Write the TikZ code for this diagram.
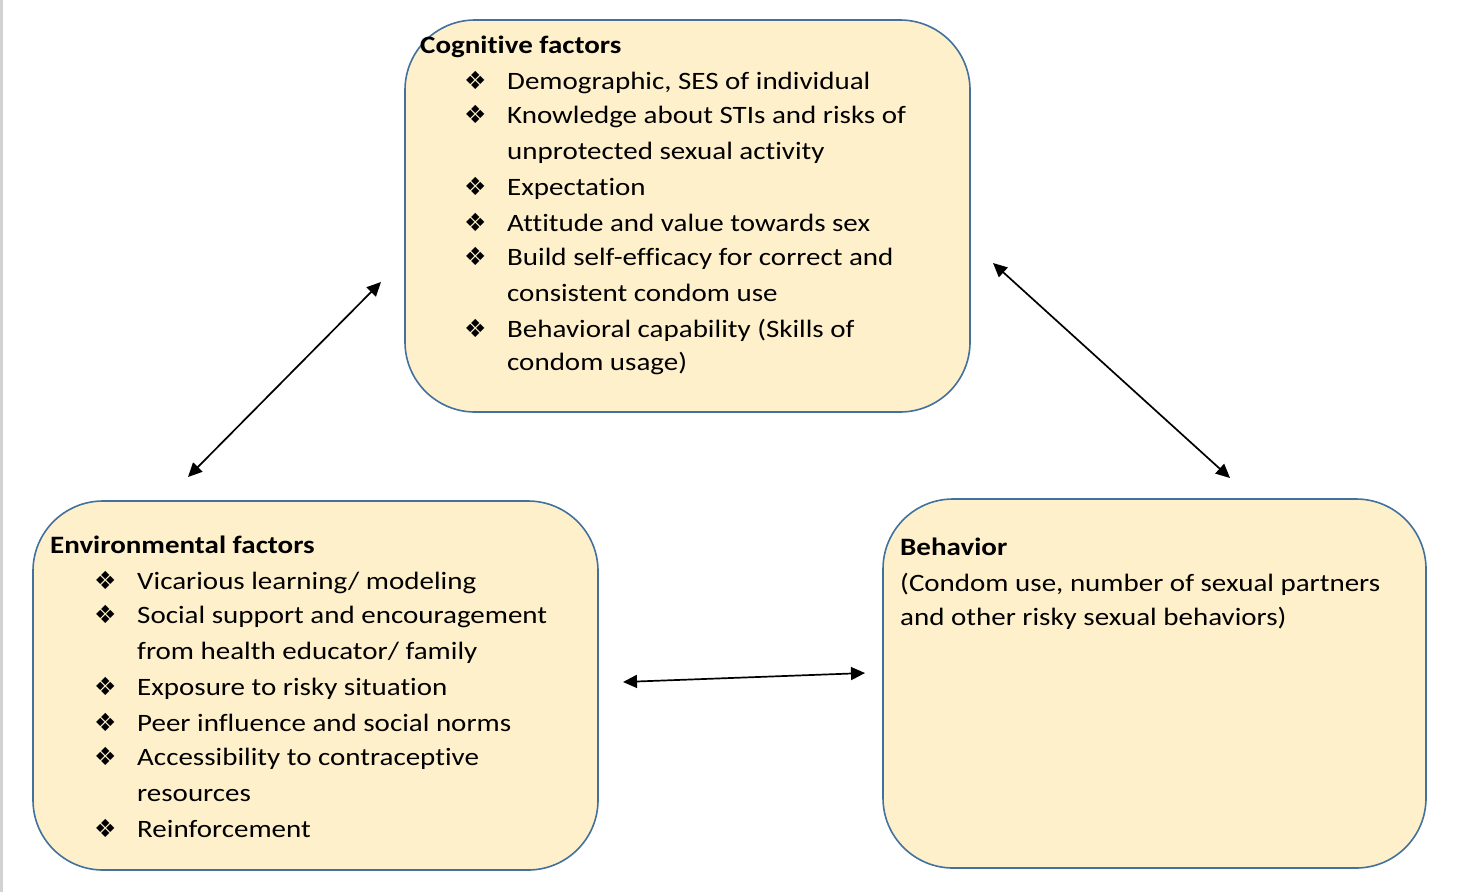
\documentclass[tikz,border=0pt]{standalone}
\usepackage{fontspec}
\setmainfont{Carlito}[FakeStretch=1.16,Ligatures={NoCommon}]
\newfontfamily\symfont{DejaVu Sans}
\usetikzlibrary{arrows.meta}
\definecolor{boxfill}{HTML}{FFF0CC}
\definecolor{boxline}{HTML}{41719C}
\begin{document}
\begin{tikzpicture}[x=1pt,y=-1pt,
  factorbox/.style={draw=boxline,line width=1.6pt,fill=boxfill,rounded corners=70pt},
  txt/.style={anchor=base west,inner sep=0pt,font=\fontsize{25}{30}\selectfont},
  hd/.style={txt,font=\fontsize{25}{30}\selectfont\bfseries},
  bul/.style={anchor=base west,inner sep=0pt,font=\fontsize{25}{30}\symfont},
  link/.style={{Triangle[length=14pt,width=13pt]}-{Triangle[length=14pt,width=13pt]},line width=1.7pt,black}]
\useasboundingbox (0,0) rectangle (1458,892);
\fill[gray!35] (0,0) rectangle (2.5,892);
% boxes
\draw[factorbox] (405,20) rectangle (970,412);
\draw[factorbox] (33,501) rectangle (598,870);
\draw[factorbox] (883,499) rectangle (1426,868);
% cognitive
\node[hd] (ch) at (420,53) {Cognitive factors};
\node[bul] (cb1) at (464,89) {❖};
\node[txt] (c1) at (507,89) {Demographic, SES of individual};
\node[bul] (cb2) at (464,123) {❖};
\node[txt] (c2) at (507,123) {Knowledge about STIs and risks of};
\node[txt] (c2b) at (507,159) {unprotected sexual activity};
\node[bul] (cb3) at (464,195) {❖};
\node[txt] (c3) at (507,195) {Expectation};
\node[bul] (cb4) at (464,231) {❖};
\node[txt] (c4) at (507,231) {Attitude and value towards sex};
\node[bul] (cb5) at (464,265) {❖};
\node[txt] (c5) at (507,265) {Build self-efficacy for correct and};
\node[txt] (c5b) at (507,301) {consistent condom use};
\node[bul] (cb6) at (464,337) {❖};
\node[txt] (c6) at (507,337) {Behavioral capability (Skills of};
\node[txt] (c6b) at (507,370) {condom usage)};
% environmental
\node[hd] (eh) at (50,553) {Environmental factors};
\node[bul] (eb1) at (94,589) {❖};
\node[txt] (e1) at (137,589) {Vicarious learning/ modeling};
\node[bul] (eb2) at (94,623) {❖};
\node[txt] (e2) at (137,623) {Social support and encouragement};
\node[txt] (e2b) at (137,659) {from health educator/ family};
\node[bul] (eb3) at (94,695) {❖};
\node[txt] (e3) at (137,695) {Exposure to risky situation};
\node[bul] (eb4) at (94,731) {❖};
\node[txt] (e4) at (137,731) {Peer influence and social norms};
\node[bul] (eb5) at (94,765) {❖};
\node[txt] (e5) at (137,765) {Accessibility to contraceptive};
\node[txt] (e5b) at (137,801) {resources};
\node[bul] (eb6) at (94,837) {❖};
\node[txt] (e6) at (137,837) {Reinforcement};
% behavior
\node[hd] (bh) at (900,555) {Behavior};
\node[txt] (b1) at (900,591) {(Condom use, number of sexual partners};
\node[txt] (b2) at (900,625) {and other risky sexual behaviors)};
% arrows
\coordinate (a1) at (381,282);
\coordinate (a2) at (188,477);
\coordinate (a3) at (993,263);
\coordinate (a4) at (1230,478);
\coordinate (a5) at (623,682);
\coordinate (a6) at (865,673);
\draw[link] (a1) -- (a2);
\draw[link] (a3) -- (a4);
\draw[link] (a5) -- (a6);
\end{tikzpicture}
\end{document}
